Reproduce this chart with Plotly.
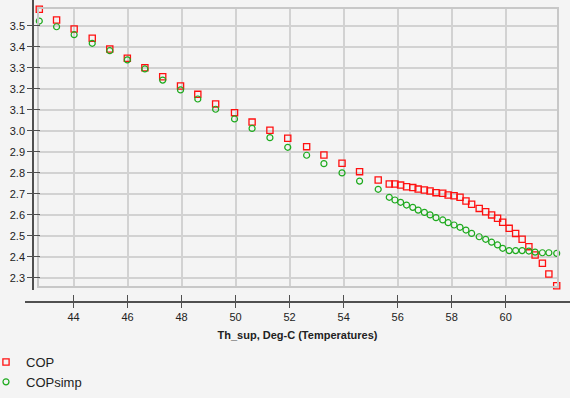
import plotly.graph_objects as go

# ---- data ----
temp = [42.73, 43.37, 44.02, 44.69, 45.34, 45.99, 46.64, 47.30, 47.96, 48.60,
        49.26, 49.96, 50.61, 51.27, 51.93, 52.63, 53.27, 53.94, 54.59, 55.28,
        55.69, 55.90, 56.11, 56.33, 56.56, 56.76, 56.99, 57.20, 57.42, 57.67,
        57.87, 58.09, 58.31, 58.53, 58.74, 59.02, 59.26, 59.48, 59.70, 59.89,
        60.13, 60.37, 60.61, 60.86, 61.09, 61.36, 61.60, 61.89]

cop = [3.578, 3.527, 3.484, 3.440, 3.389, 3.345, 3.300, 3.257, 3.213, 3.173,
       3.127, 3.086, 3.041, 3.002, 2.964, 2.924, 2.884, 2.845, 2.805, 2.765,
       2.746, 2.746, 2.741, 2.733, 2.729, 2.722, 2.718, 2.713, 2.705, 2.702,
       2.694, 2.690, 2.683, 2.665, 2.650, 2.630, 2.614, 2.599, 2.583, 2.564,
       2.535, 2.511, 2.483, 2.448, 2.408, 2.369, 2.318, 2.262]

cop_simp = [3.522, 3.495, 3.457, 3.416, 3.381, 3.337, 3.294, 3.241, 3.194, 3.151,
            3.102, 3.056, 3.011, 2.967, 2.921, 2.883, 2.843, 2.799, 2.760, 2.721,
            2.683, 2.670, 2.659, 2.646, 2.635, 2.622, 2.611, 2.599, 2.586, 2.575,
            2.562, 2.551, 2.540, 2.527, 2.511, 2.495, 2.483, 2.469, 2.456, 2.440,
            2.429, 2.429, 2.429, 2.427, 2.422, 2.419, 2.419, 2.416]

x_ticks = [44, 46, 48, 50, 52, 54, 56, 58, 60]
y_ticks = [2.3, 2.4, 2.5, 2.6, 2.7, 2.8, 2.9, 3.0, 3.1, 3.2, 3.3, 3.4, 3.5]
x_title = "Th_sup, Deg-C (Temperatures)"

# ---- layout geometry (pixels) ----
W, H = 570, 398
px_l, px_r, px_t, px_b = 39.3, 556.7, 9.3, 285.7   # plot frame
xline_y = 302        # offset x-axis line
xline_l = 25         # x-axis line starts
yline_x = 33         # offset y-axis line
yline_b = 290        # y-axis line ends

xmin, xmax = min(temp), max(temp)
ymin, ymax = min(cop + cop_simp), max(cop + cop_simp)

# extended range for the offset axis lines so that ticks align with the frame scale
sx = (xmax - xmin) / (px_r - px_l)
x2_range = [xmin - (px_l - xline_l) * sx, xmax + (W - px_r) * sx]
sy = (ymax - ymin) / (px_b - px_t)
y2_range = [ymin - (yline_b - px_b) * sy, ymax + (px_t - 0) * sy]

FONT = "Liberation Sans, Arial, sans-serif"
BG = "#f4f4f4"
AXC = "#505050"

fig = go.Figure()
fig.add_trace(go.Scatter(x=temp, y=cop, mode="markers", name="COP",
                         marker=dict(symbol="square-open", size=6.2, color="#ff1010",
                                     line=dict(width=1.3, color="#ff1010")),
                         cliponaxis=False))
fig.add_trace(go.Scatter(x=temp, y=cop_simp, mode="markers", name="COPsimp",
                         marker=dict(symbol="circle-open", size=6, color="#1eaa1e",
                                     line=dict(width=1.2, color="#1eaa1e")),
                         cliponaxis=False))
# empty traces to host the offset axes
fig.add_trace(go.Scatter(x=[], y=[], xaxis="x2", yaxis="y2", showlegend=False, hoverinfo="skip"))
fig.add_trace(go.Scatter(x=[], y=[], xaxis="x3", yaxis="y3", showlegend=False, hoverinfo="skip"))

fig.update_layout(
    width=W, height=H,
    margin=dict(l=0, r=0, t=0, b=0, autoexpand=False),
    paper_bgcolor=BG, plot_bgcolor="rgba(0,0,0,0)",
    font=dict(family=FONT, size=11, color="#222222"),
    showlegend=True,
    legend=dict(x=(26 - 40) / W, xanchor="left", y=1 - 347 / H, yanchor="top",
                font=dict(size=13, color="#222222"), bgcolor="rgba(0,0,0,0)",
                tracegroupgap=0),
    xaxis=dict(domain=[px_l / W, px_r / W], range=[xmin, xmax], anchor="y",
               tickvals=x_ticks, showticklabels=False, ticks="",
               showgrid=True, gridcolor="#d2d2d2", gridwidth=1.6, zeroline=False,
               showline=True, mirror=True, linecolor="#c8c8c8", linewidth=2),
    yaxis=dict(domain=[1 - px_b / H, 1 - px_t / H], range=[ymin, ymax], anchor="x",
               tickvals=y_ticks, showticklabels=False, ticks="",
               showgrid=True, gridcolor="#d2d2d2", gridwidth=1.6, zeroline=False,
               showline=True, mirror=True, linecolor="#c8c8c8", linewidth=2),
    xaxis2=dict(domain=[xline_l / W, 1], range=x2_range, anchor="free",
                position=1 - xline_y / H, side="bottom",
                tickvals=x_ticks, ticktext=[str(v) for v in x_ticks],
                ticks="outside", ticklen=5, tickwidth=1.3, tickcolor=AXC,
                showline=True, linecolor=AXC, linewidth=1.6,
                showgrid=False, zeroline=False,
                tickfont=dict(size=11, color="#222222"),
                title=dict(text="<b>" + x_title + "</b>", standoff=8,
                           font=dict(size=11, color="#222222"))),
    yaxis2=dict(domain=[1 - yline_b / H, 1], range=y2_range, anchor="free",
                position=yline_x / W, side="left",
                tickvals=y_ticks, ticktext=["%.1f" % v for v in y_ticks],
                ticks="outside", ticklen=5, tickwidth=1.3, tickcolor=AXC,
                showline=True, linecolor=AXC, linewidth=1.6,
                showgrid=False, zeroline=False,
                tickfont=dict(size=11, color="#222222")),
    xaxis3=dict(overlaying="x2", range=x2_range, anchor="free",
                position=1 - xline_y / H, side="bottom",
                tickvals=x_ticks, showticklabels=False,
                ticks="inside", ticklen=7, tickwidth=1.3, tickcolor=AXC,
                showline=False, showgrid=False, zeroline=False),
    yaxis3=dict(overlaying="y2", range=y2_range, anchor="free",
                position=yline_x / W, side="left",
                tickvals=y_ticks, showticklabels=False,
                ticks="inside", ticklen=6, tickwidth=1.3, tickcolor=AXC,
                showline=False, showgrid=False, zeroline=False),
)

fig.write_html("out.html")
